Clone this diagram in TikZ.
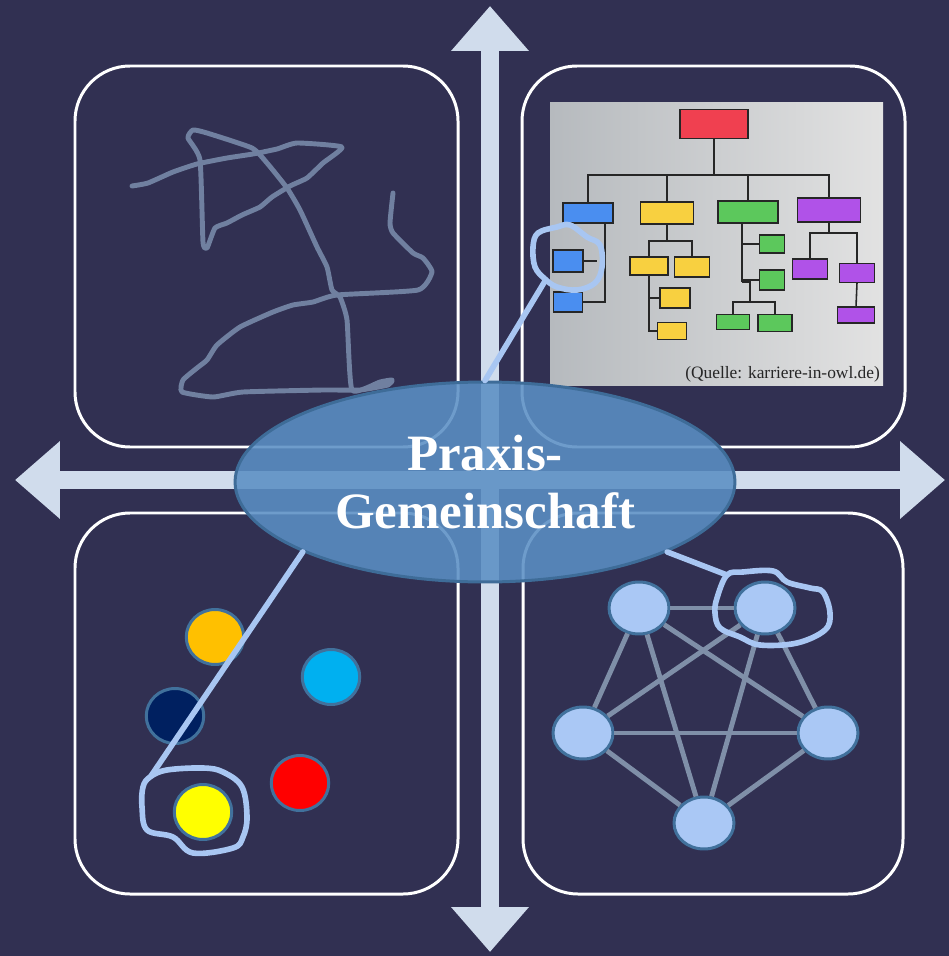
\documentclass[tikz,border=0pt]{standalone}
\usepackage{fontspec}
\setmainfont{Liberation Serif}
\usepackage{tikz}
\usetikzlibrary{arrows.meta, positioning, shapes.geometric, calc}
\definecolor{bgcol}{RGB}{49,48,82}
\definecolor{axiscol}{RGB}{208,220,236}
\definecolor{scrib}{RGB}{112,128,160}
\definecolor{hlblue}{RGB}{168,198,242}
\definecolor{ellfill}{RGB}{91,143,196}
\definecolor{ellline}{RGB}{62,108,152}
\definecolor{nodefill}{RGB}{170,200,245}
\definecolor{nodeline}{RGB}{65,113,156}
\definecolor{netgray}{RGB}{127,143,168}
\definecolor{dorange}{RGB}{255,192,0}
\definecolor{dcyan}{RGB}{0,176,240}
\definecolor{dnavy}{RGB}{0,32,96}
\definecolor{dred}{RGB}{255,0,0}
\definecolor{dyellow}{RGB}{255,255,0}
\definecolor{ored}{RGB}{240,64,80}
\definecolor{oblue}{RGB}{74,142,240}
\definecolor{oyel}{RGB}{248,208,64}
\definecolor{ogreen}{RGB}{92,200,92}
\definecolor{opurp}{RGB}{176,82,232}
\definecolor{imgL}{RGB}{182,186,190}
\definecolor{imgR}{RGB}{226,226,226}

\begin{document}
\begin{tikzpicture}[x=0.02cm,y=-0.02cm,
    quad/.style={draw=white,line width=1.7pt,rounded corners=1.1cm},
    axisline/.style={draw=axiscol,line width=10.8pt,{Triangle[length=0.9cm,width=1.5cm]}-{Triangle[length=0.9cm,width=1.5cm]}},
    orgbox/.style={draw=black!85,line width=0.9pt,inner sep=0pt,outer sep=0pt},
    dot/.style={ellipse,draw=nodeline,line width=1.7pt,minimum width=1.15cm,minimum height=1.1cm,inner sep=0pt},
    netnode/.style={ellipse,draw=nodeline,line width=1.7pt,fill=nodefill,minimum width=1.2cm,minimum height=1.04cm,inner sep=0pt},
    netedge/.style={draw=netgray,line width=2.8pt},
    hilite/.style={draw=hlblue,line width=3.2pt,line cap=round,line join=round},
    ell/.style={ellipse,draw=ellline,line width=1.7pt,fill=ellfill,fill opacity=0.88,text opacity=1,text=white,
        minimum width=10cm,minimum height=4cm,inner sep=0pt,align=center,font=\bfseries\fontsize{29}{33}\selectfont}]
    % Background
    \fill[bgcol] (0,0) rectangle (949,956);
    \useasboundingbox (0,0) rectangle (949,956);
    % Axes
    \coordinate (atop) at (490,6);
    \coordinate (abot) at (490,952);
    \coordinate (alft) at (15,480);
    \coordinate (argt) at (945,480);
    \draw[axisline] (abot) -- (atop);
    \draw[axisline] (alft) -- (argt);
    % Quadrant frames
    \draw[quad] (75,66) rectangle (458,447);
    \draw[quad] (522,66) rectangle (905,447);
    \draw[quad] (75,513) rectangle (458,894);
    \draw[quad] (523,513) rectangle (903,894);
    % Scribble (top left)
    \draw[draw=scrib,line width=2.8pt,line cap=round,line join=round] plot[smooth,tension=0.3] coordinates {
        (132,186) (148,183) (173,172) (197,164) (227,158) (253,154) (277,149) (297,143) (342,147)
        (323,163) (307,178) (290,186) (272,197) (260,207) (242,215) (227,223) (215,228) (207,248)
        (203,242) (200,160) (188,138) (193,130) (207,133) (252,148) (267,163) (287,188) (300,210)
        (317,247) (327,267) (332,290) (340,297) (347,320) (352,390) (380,382) (392,380) (388,385)
        (360,390) (323,390) (243,392) (213,397) (182,392) (183,380) (197,368) (207,360) (217,345)
        (240,327) (273,312) (293,305) (313,302) (337,295) (418,290) (432,272) (423,258) (413,253)
        (393,233) (390,223) (393,193)};
    % Org chart picture (top right)
    \shade[left color=imgL,right color=imgR] (550,103) rectangle (883,385);
    \foreach \n/\x/\y/\c/\w/\h in {boss/714/124/ored/1.36/0.58,
        blu/588/213/oblue/1.0/0.4, yel/667/213/oyel/1.06/0.44, grn/748/212/ogreen/1.2/0.44, pur/829/210/opurp/1.26/0.48,
        blu1/568/261/oblue/0.6/0.44, blu2/568/302/oblue/0.58/0.4,
        yel1/649/266/oyel/0.76/0.36, yel2/692/267/oyel/0.7/0.4, yel3/675/298/oyel/0.6/0.4, yel4/672/331/oyel/0.58/0.34,
        grn1/772/244/ogreen/0.5/0.36, grn2/772/280/ogreen/0.5/0.4, grn3/733/322/ogreen/0.66/0.3, grn4/775/323/ogreen/0.68/0.34,
        pur1/810/269/opurp/0.7/0.4, pur2/857/273/opurp/0.7/0.38, pur3/856/315/opurp/0.74/0.32}
        \node[orgbox,fill=\c,minimum width=\w cm,minimum height=\h cm] (\n) at (\x,\y) {};
    \begin{scope}[draw=black!85,line width=0.9pt]
        \coordinate (bus) at (714,175);
        \draw (boss.south) -- (bus);
        \draw (blu.north) -- (blu.north |- bus) -- (pur.north |- bus) -- (pur.north);
        \draw (yel.north) -- (yel.north |- bus);
        \draw (grn.north) -- (grn.north |- bus);
        \draw ($(blu.south)+(17,0)$) |- (blu2.east);
        \draw (blu1.east) -- ++(14,0);
        \draw (yel.south) -- ++(0,17) coordinate (ybus);
        \draw (yel1.north) |- (ybus) -| (yel2.north);
        \draw (yel1.south) |- (yel4.west);
        \draw (yel3.west) -- (yel3.west -| yel1.south);
        \draw ($(grn.south)+(-6,0)$) coordinate (gs) -- ++(0,59) coordinate (gm);
        \draw (grn1.west) -- (grn1.west -| gs);
        \draw (grn2.west) -- (grn2.west -| gs);
        \draw (gm) -- ++(8,0) -- ++(0,20) coordinate (gbus);
        \draw (grn3.north) |- (gbus) -| (grn4.north);
        \draw (pur.south) -- ++(0,11) coordinate (pbus);
        \draw (pur1.north) |- (pbus) -| (pur2.north);
        \draw (pur2.south) -- (pur3.north);
    \end{scope}
    \node[anchor=south east,font=\fontsize{9.9}{11}\selectfont,text=black!85,inner sep=1pt] (src) at (882,384) {(Quelle: karriere-in-owl.de)};
    % Coloured dots (bottom left)
    \foreach \n/\x/\y/\c in {dorg/215/637/dorange, dcy/331/677/dcyan, dnv/175/716/dnavy, drd/300/783/dred, dye/203/812/dyellow}
        \node[dot,fill=\c] (\n) at (\x,\y) {};
    % Network (bottom right)
    \foreach \n/\x/\y in {n1/639/608, n2/765/608, n3/583/733, n4/828/733, n5/704/823}
        \node[netnode] (\n) at (\x,\y) {};
    \foreach \a/\b in {n1/n2,n1/n3,n1/n4,n1/n5,n2/n3,n2/n4,n2/n5,n3/n4,n3/n5,n4/n5}
        \draw[netedge] (\a) -- (\b);
    % Centre
    \node[ell] (ell) at (485,482) {Praxis-\\Gemeinschaft};
    % Highlights
    \coordinate (trb) at (545,281);
    \coordinate (blb) at (151,776);
    \coordinate (brb) at (727,575);
    \draw[hilite] (ell.north) -- (trb);
    \draw[hilite] (ell.201) -- (blb);
    \draw[hilite] (ell.339) -- (brb);
    \draw[hilite] plot[smooth cycle,tension=0.6] coordinates {(545,279) (535,267) (533,247) (538,233) (557,227) (570,225) (587,237) (600,245) (602,267) (595,283) (577,290) (557,287)};
    \draw[hilite] plot[smooth cycle,tension=0.6] coordinates {(150,777) (167,770) (203,768) (223,772) (242,787) (247,817) (243,837) (233,848) (193,853) (173,837) (147,830) (142,807) (143,787)};
    \draw[hilite] plot[smooth cycle,tension=0.6] coordinates {(727,575) (743,572) (773,571) (787,582) (810,588) (823,592) (830,613) (825,630) (797,643) (760,645) (740,637) (720,628) (715,613) (717,598)};
\end{tikzpicture}
\end{document}
